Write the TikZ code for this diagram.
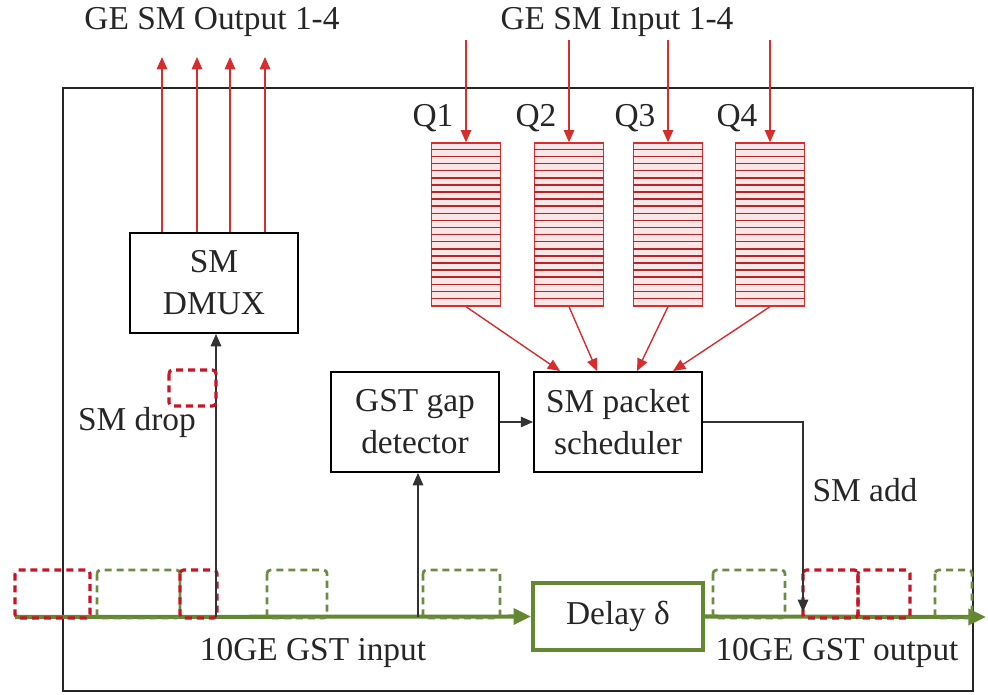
\documentclass[tikz,border=0pt]{standalone}
\usepackage{fontspec}
\setmainfont{Liberation Serif}
\usepackage{tikz}
\usetikzlibrary{calc}
\usetikzlibrary{arrows.meta, positioning}

\definecolor{smred}{RGB}{215,45,45}
\definecolor{pktred}{RGB}{200,20,35}
\definecolor{gstgreen}{RGB}{100,135,50}
\definecolor{pktgreen}{RGB}{110,140,65}

\begin{document}
\begin{tikzpicture}[
    x=0.02cm, y=-0.02cm,
    every node/.style={font=\fontsize{19}{24}\selectfont, text=black!85},
    blk/.style={draw, line width=1.1pt, minimum width=3.36cm, minimum height=2cm, align=center, inner sep=0pt},
    dly/.style={draw=gstgreen, line width=2.2pt, minimum width=3.4cm, minimum height=1.34cm, inner sep=0pt},
    queue/.style={draw=smred, fill=smred!12, line width=0.8pt, minimum width=1.38cm, minimum height=3.26cm, inner sep=0pt},
    arrow/.style={-{Triangle[length=7pt, width=6pt]}, line width=0.7pt, black!80},
    redarrow/.style={-{Triangle[length=7pt, width=6pt]}, line width=0.8pt, smred},
    gstline/.style={-{Triangle[length=10pt, width=9pt]}, line width=2.3pt, gstgreen},
    pktr/.style={draw=pktred, line width=1.8pt, dash pattern=on 4pt off 2.8pt, rounded corners=2pt},
    pktg/.style={draw=pktgreen, line width=1.6pt, dash pattern=on 4pt off 2.8pt, rounded corners=2pt}
]
\useasboundingbox (0,0) rectangle (988,695);

% Cadre
\draw[line width=1.1pt, black!85] (63,88) rectangle (973,691);

% Blocs
\node[blk] (dmux) at (214,283) {SM\\DMUX};
\node[blk] (gap) at (415,422) {GST gap\\detector};
\node[blk] (sched) at (618,422) {SM packet\\scheduler};
\node[dly] (delay) at (618,616.5) {Delay δ};

% Files d'attente
\foreach \x/\n in {466/1,569/2,668/3,770/4} {
  \node[queue] (q\n) at (\x,224.5) {};
  \foreach \i in {1,...,22}
    \draw[smred!85!black, line width=0.9pt] ($(q\n.north west)+(0,\i*7.1)$) -- ($(q\n.north east)+(0,\i*7.1)$);
  \node (lq\n) at (\x-33,118) {Q\n};
  \coordinate (in\n) at (\x,40);
  \draw[redarrow] (in\n) -- (q\n.north);
}
\node (inlbl) at (617,22) {GE SM Input 1-4};

% Vers l'ordonnanceur
\foreach \n/\d in {1/27,2/64,3/104,4/140}
  \draw[redarrow] (q\n.south) -- ($(sched.north west)+(\d,0)$);

% Sorties SM
\foreach \x/\n in {162/1,197/2,230/3,265/4} {
  \coordinate (out\n) at (\x,57);
  \draw[redarrow] (dmux.north -| out\n) -- (out\n);
}
\node (outlbl) at (212,22) {GE SM Output 1-4};

% Ligne GST
\coordinate (gin) at (15,617);
\coordinate (gout) at (986,617);
\draw[gstline] (gin) -- (delay.west);
\draw[gstline] (delay.east) -- (gout);

% Paquets
\draw[pktr] (15,570) rectangle (90,618);
\draw[pktg] (97,570) rectangle (180,618);
\draw[pktr] (180,570) rectangle (217,618);
\draw[pktg] (267,570) rectangle (327,618);
\draw[pktg] (423,570) rectangle (500,618);
\draw[pktg] (713,570) rectangle (785,618);
\draw[pktr] (803,570) rectangle (858,618);
\draw[pktr] (858,570) rectangle (910,618);
\draw[pktg] (935,570) rectangle (972,618);

% Extraction / insertion
\coordinate (tapd) at (216,617);
\draw[arrow] (tapd) -- (dmux.south -| tapd);
\draw[pktr] (169,370) rectangle (216,406);
\node (drop) at (137,422) {SM drop};

\coordinate (tapg) at (418,617);
\draw[arrow] (tapg) -- (gap.south -| tapg);
\draw[arrow] (gap) -- (sched);

\coordinate (addpt) at (803,612);
\draw[arrow] (sched.east) -| (addpt);
\node (add) at (865,490) {SM add};

\node (gstin) at (313,653) {10GE GST input};
\node (gstout) at (837,653) {10GE GST output};

\end{tikzpicture}
\end{document}
